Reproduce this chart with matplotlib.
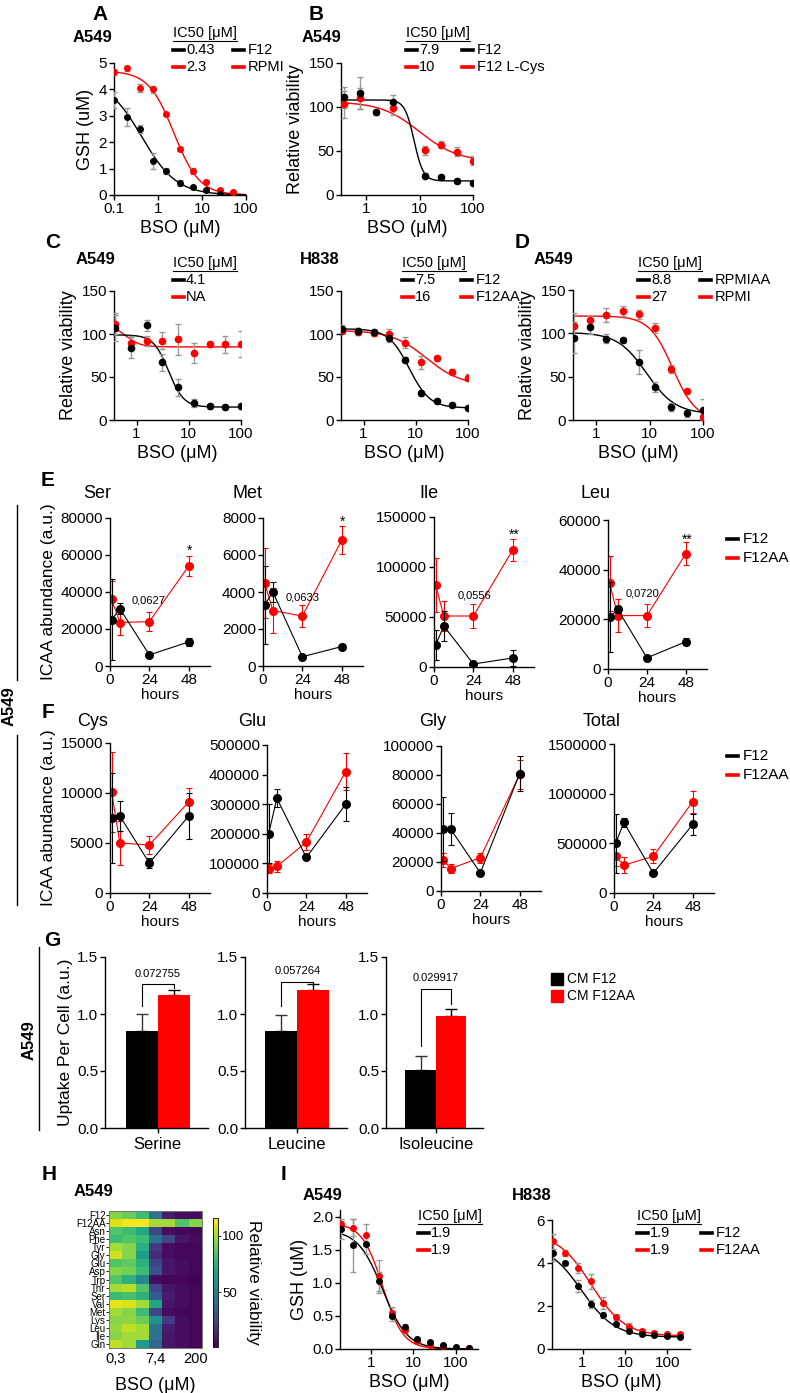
import matplotlib
matplotlib.use("Agg")
import matplotlib.pyplot as plt
import numpy as np
from matplotlib.lines import Line2D
from matplotlib.patches import Rectangle

plt.rcParams['font.family'] = ['Liberation Sans', 'DejaVu Sans']

W, H = 790, 1393
RED = '#ff0000'
GREY = '#999999'
nan = np.nan

# ---------------- data ----------------
# A: GSH vs BSO
dose_A = [0.098, 0.195, 0.39, 0.78, 1.56, 3.125, 6.25, 12.5, 25, 50]
gsh_A_f12 = [3.6, 2.95, 2.5, 1.3, 0.9, 0.45, 0.3, 0.2, 0.02, nan]
gsh_A_f12_err = [0.3, 0.35, 0.15, 0.3, 0.12, 0.1, 0.05, 0.03, 0.02, nan]
gsh_A_rpmi = [4.65, 4.8, 4.05, 4.0, 3.05, 1.75, 0.9, 0.5, 0.18, 0.12]
gsh_A_rpmi_err = [0.12, 0.1, 0.15, 0.12, 0.05, 0.08, 0.12, 0.05, 0.05, 0.03]
fit_A_f12 = [4.4, 0.0, 0.43, 1.1]      # top, bottom, IC50, hill
fit_A_rpmi = [4.7, 0.0, 2.3, 1.5]

# B, C, D: relative viability
dose_v = [0.39, 0.78, 1.56, 3.125, 6.25, 12.5, 25, 50, 100]
via_B_f12 = [111, 116, 94, 106, nan, 22, 21, 16, 14]
via_B_f12_err = [12, 18, 3, 8, nan, 3, 2, 2, 2]
via_B_lcys = [103, 110, nan, 99, nan, 51, 57, 49, 39]
via_B_lcys_err = [15, 12, nan, 8, nan, 5, 4, 5, 5]
fit_B_f12 = [108, 16, 7.9, 5.0]
fit_B_lcys = [106, 38, 10, 1.2]

via_C1_f12 = [107, 84, 110, 67, 38, 20, 16, 15, 16]
via_C1_f12_err = [15, 12, 6, 10, 10, 5, 3, 2, 3]
via_C1_aa = [112, 90, 92, 92, 94, 78, 88, 88, 88]
via_C1_aa_err = [12, 8, 6, 10, 18, 12, 3, 10, 15]
fit_C1_f12 = [99, 15, 4.1, 3.0]
fit_C1_aa = [112, 85, 0.6, 3.0]

via_C2_f12 = [106, 104, 102, 95, 70, 31, 22, 17, 14]
via_C2_f12_err = [4, 3, 3, 4, 3, 3, 2, 2, 2]
via_C2_aa = [104, 102, 101, 100, 90, 67, 72, 56, 49]
via_C2_aa_err = [3, 3, 3, 6, 6, 8, 3, 3, 4]
fit_C2_f12 = [106, 14, 7.5, 2.2]
fit_C2_aa = [104, 40, 16, 1.3]

via_D_rpmiaa = [95, 107, 94, 92, 67, 38, 15, 8, 12]
via_D_rpmiaa_err = [18, 8, 5, 3, 14, 6, 5, 4, 12]
via_D_rpmi = [108, 115, 121, 126, 122, 106, 59, 33, 4]
via_D_rpmi_err = [15, 5, 8, 6, 5, 6, 5, 2, 3]
fit_D_rpmiaa = [101, 7, 8.8, 1.6]
fit_D_rpmi = [120, 0, 27, 2.0]

# E/F: intracellular amino acids over time
hours = [1, 6, 24, 48]
aa_names_E = ['Ser', 'Met', 'Ile', 'Leu']
aa_names_F = ['Cys', 'Glu', 'Gly', 'Total']
icaa_f12 = {
    'Ser': [25000, 31000, 6000, 13000], 'Met': [3300, 4000, 500, 1050],
    'Ile': [22000, 41000, 3000, 9000], 'Leu': [21000, 24000, 4500, 11000],
    'Cys': [7500, 7700, 3000, 7700], 'Glu': [200000, 320000, 120000, 300000],
    'Gly': [43000, 42500, 12500, 81000], 'Total': [500000, 710000, 200000, 690000],
}
icaa_f12_err = {
    'Ser': [22000, 3000, 500, 2000], 'Met': [2100, 550, 100, 150],
    'Ile': [15000, 15000, 1000, 8000], 'Leu': [14000, 1500, 500, 1500],
    'Cys': [4500, 1500, 500, 2300], 'Glu': [100000, 30000, 5000, 58000],
    'Gly': [22000, 11000, 1000, 12000], 'Total': [300000, 50000, 10000, 110000],
}
icaa_aa = {
    'Ser': [36000, 23500, 24000, 54000], 'Met': [4500, 3000, 2700, 6800],
    'Ile': [82000, 51000, 51000, 117000], 'Leu': [34500, 21500, 21500, 46500],
    'Cys': [10100, 5000, 4800, 9100], 'Glu': [82000, 90000, 172000, 410000],
    'Gly': [21500, 15500, 23000, 80500], 'Total': [370000, 280000, 370000, 920000],
}
icaa_aa_err = {
    'Ser': [10000, 7000, 5000, 5500], 'Met': [1900, 1200, 600, 750],
    'Ile': [27000, 15000, 12000, 11000], 'Leu': [11000, 6800, 4500, 4500],
    'Cys': [4000, 2200, 900, 1400], 'Glu': [15000, 18000, 28000, 62000],
    'Gly': [5000, 3000, 3500, 10000], 'Total': [100000, 80000, 70000, 110000],
}
ymax = {'Ser': 80000, 'Met': 8000, 'Ile': 150000, 'Leu': 60000,
        'Cys': 15000, 'Glu': 500000, 'Gly': 100000, 'Total': 1500000}
ystep = {'Ser': 20000, 'Met': 2000, 'Ile': 50000, 'Leu': 20000,
         'Cys': 5000, 'Glu': 100000, 'Gly': 20000, 'Total': 500000}
pval_E = {'Ser': '0,0627', 'Met': '0,0633', 'Ile': '0,0556', 'Leu': '0,0720'}
stars_E = {'Ser': '*', 'Met': '*', 'Ile': '**', 'Leu': '**'}

# G: uptake per cell
uptake_cats = ['Serine', 'Leucine', 'Isoleucine']
uptake_f12 = [0.85, 0.85, 0.51]
uptake_f12_err = [0.15, 0.14, 0.12]
uptake_aa = [1.17, 1.21, 0.98]
uptake_aa_err = [0.04, 0.05, 0.06]
uptake_p = ['0.072755', '0.057264', '0.029917']

# H: heatmap
hm_rows = ['F12', 'F12AA', 'Asn', 'Phe', 'Tyr', 'Gly', 'Glu', 'Asp', 'Trp',
           'Thr', 'Ser', 'Val', 'Met', 'Lys', 'Leu', 'Ile', 'Gln']
hm_vals = [
    [95, 90, 80, 45, 10, 5, 5],
    [110, 114, 115, 100, 100, 85, 95],
    [85, 80, 70, 25, 5, 3, 3],
    [80, 85, 80, 45, 25, 8, 5],
    [100, 95, 75, 20, 5, 3, 3],
    [108, 95, 65, 15, 5, 3, 3],
    [85, 88, 75, 25, 8, 5, 3],
    [95, 92, 80, 30, 8, 5, 3],
    [85, 75, 55, 5, 3, 3, 2],
    [100, 104, 85, 25, 8, 5, 3],
    [80, 82, 75, 35, 10, 5, 3],
    [112, 110, 100, 70, 8, 5, 3],
    [100, 95, 80, 25, 5, 3, 3],
    [95, 97, 90, 60, 20, 5, 3],
    [98, 105, 100, 45, 10, 5, 3],
    [95, 100, 100, 45, 8, 5, 3],
    [105, 100, 65, 40, 8, 5, 3],
]
hm_xlabels = ['0,3', '7,4', '200']

# I: GSH vs BSO, F12 vs F12AA
dose_I = [0.2, 0.39, 0.78, 1.56, 3.125, 6.25, 12.5, 25, 50, 100, 200]
gsh_I1_f12 = [1.81, 1.57, 1.59, 1.02, 0.5, 0.33, 0.15, 0.1, 0.06, 0.03, 0.02]
gsh_I1_f12_err = [0.15, 0.4, 0.15, 0.15, 0.08, 0.05, 0.03, 0.02, 0.02, 0.01, 0.01]
gsh_I1_aa = [1.89, 1.83, 1.72, 1.1, 0.55, 0.28, 0.12, 0.06, 0.04, 0.02, 0.01]
gsh_I1_aa_err = [0.05, 0.13, 0.17, 0.25, 0.08, 0.04, 0.02, 0.02, 0.01, 0.01, 0.01]
fit_I1_f12 = [1.8, 0.0, 1.9, 1.5]
fit_I1_aa = [1.9, 0.0, 1.9, 1.8]
gsh_I2_f12 = [4.47, 4.0, 2.93, 2.09, 1.58, 1.16, 0.85, 0.7, 0.65, 0.6, 0.58]
gsh_I2_f12_err = [0.4, 0.1, 0.3, 0.2, 0.15, 0.1, 0.1, 0.08, 0.05, 0.05, 0.05]
gsh_I2_aa = [5.02, 4.47, 3.77, 3.16, 2.14, 1.49, 1.02, 0.85, 0.75, 0.7, 0.68]
gsh_I2_aa_err = [0.35, 0.15, 0.25, 0.35, 0.3, 0.15, 0.2, 0.1, 0.1, 0.05, 0.05]
fit_I2_f12 = [4.9, 0.55, 0.95, 1.1]
fit_I2_aa = [5.4, 0.6, 1.6, 1.1]

# ---------------- helpers ----------------
fig = plt.figure(figsize=(W / 100, H / 100), dpi=100, facecolor='white')


def box(l, t, r, b):
    return fig.add_axes([l / W, 1 - b / H, (r - l) / W, (b - t) / H])


def T(x, y, s, **kw):
    kw.setdefault('va', 'center')
    return fig.text(x / W, 1 - y / H, s, **kw)


def hline(x0, x1, y, lw=1, color='k'):
    fig.add_artist(Line2D([x0 / W, x1 / W], [1 - y / H, 1 - y / H],
                          color=color, lw=lw, transform=fig.transFigure))


def vline(x, y0, y1, lw=1, color='k'):
    fig.add_artist(Line2D([x / W, x / W], [1 - y0 / H, 1 - y1 / H],
                          color=color, lw=lw, transform=fig.transFigure))


def prism(ax, labelsize=11):
    ax.spines['top'].set_visible(False)
    ax.spines['right'].set_visible(False)
    for s in ['left', 'bottom']:
        ax.spines[s].set_linewidth(1.0)
    ax.tick_params(direction='out', length=3.5, width=1, labelsize=labelsize, pad=1.5)
    ax.patch.set_alpha(0)


def logistic(x, top, bottom, ic50, hill):
    return bottom + (top - bottom) / (1 + (x / ic50) ** hill)


def dose_plot(ax, dose, y1, e1, f1, y2, e2, f2, xlim, xend, ms=4.5):
    xx = np.logspace(np.log10(xlim[0]), np.log10(xend), 300)
    for y, e, f, c in [(y2, e2, f2, RED), (y1, e1, f1, 'k')]:
        ax.plot(xx, logistic(xx, *f), color=c, lw=1, zorder=2)
        ax.errorbar(dose, y, yerr=e, fmt='o', color=c, ms=ms, ecolor=GREY,
                    elinewidth=1, capsize=2, capthick=1, zorder=3)
    ax.set_xscale('log')
    ax.set_xlim(*xlim)
    ax.minorticks_off()
    prism(ax)


def ic50_legend(x, y, vals, x2=None, names=None, fs=10.5):
    T(x, y, 'IC50 [μM]', fontsize=fs)
    hline(x, x + 64, y + 8, lw=0.8)
    for i, (v, c) in enumerate(zip(vals, ['k', RED])):
        yy = y + 17 * (i + 1)
        hline(x, x + 11, yy, lw=2.6, color=c)
        T(x + 13, yy, v, fontsize=fs)
        if names:
            hline(x2, x2 + 11, yy, lw=2.6, color=c)
            T(x2 + 15, yy, names[i], fontsize=fs)


LBL = dict(fontsize=13)
LET = dict(fontsize=15, fontweight='bold', ha='center')
TTL = dict(fontsize=12, fontweight='bold', ha='center')

# ---------------- A ----------------
ax = box(114, 63, 246, 195)
dose_plot(ax, dose_A, gsh_A_f12, gsh_A_f12_err, fit_A_f12,
          gsh_A_rpmi, gsh_A_rpmi_err, fit_A_rpmi, (0.1, 100), 100, ms=4)
ax.set_ylim(0, 5)
ax.set_yticks([0, 1, 2, 3, 4, 5])
ax.set_xticks([0.1, 1, 10, 100])
ax.set_xticklabels(['0.1', '1', '10', '100'])
ax.set_xlabel('BSO (μM)', **LBL, labelpad=3)
ax.set_ylabel('GSH (uM)', **LBL, labelpad=3)
T(100, 14, 'A', **LET)
T(92, 37, 'A549', **TTL)
ic50_legend(173, 33, ['0.43', '2.3'], 233, ['F12', 'RPMI'])

# ---------------- B ----------------
ax = box(341, 63, 473, 195)
dose_plot(ax, dose_v, via_B_f12, via_B_f12_err, fit_B_f12,
          via_B_lcys, via_B_lcys_err, fit_B_lcys, (0.34, 100), 100)
ax.set_ylim(0, 150)
ax.set_yticks([0, 50, 100, 150])
ax.set_xticks([1, 10, 100])
ax.set_xticklabels(['1', '10', '100'])
ax.set_xlabel('BSO (μM)', **LBL, labelpad=3)
ax.set_ylabel('Relative viability', **LBL, labelpad=3)
T(316, 14, 'B', **LET)
T(321, 37, 'A549', **TTL)
ic50_legend(406, 33, ['7.9', '10'], 462, ['F12', 'F12 L-Cys'])

# ---------------- C ----------------
ax = box(114, 291, 241, 420)
dose_plot(ax, dose_v, via_C1_f12, via_C1_f12_err, fit_C1_f12,
          via_C1_aa, via_C1_aa_err, fit_C1_aa, (0.37, 100), 100)
ax.set_ylim(0, 150)
ax.set_yticks([0, 50, 100, 150])
ax.set_xticks([1, 10, 100])
ax.set_xticklabels(['1', '10', '100'])
ax.set_xlabel('BSO (μM)', **LBL, labelpad=3)
ax.set_ylabel('Relative viability', **LBL, labelpad=3)
T(53, 243, 'C', **LET)
T(95, 260, 'A549', **TTL)
ic50_legend(173, 263, ['4.1', 'NA'])

ax = box(341, 291, 468, 420)
dose_plot(ax, dose_v, via_C2_f12, via_C2_f12_err, fit_C2_f12,
          via_C2_aa, via_C2_aa_err, fit_C2_aa, (0.37, 100), 100)
ax.set_ylim(0, 150)
ax.set_yticks([0, 50, 100, 150])
ax.set_xticks([1, 10, 100])
ax.set_xticklabels(['1', '10', '100'])
ax.set_xlabel('BSO (μM)', **LBL, labelpad=3)
T(320, 260, 'H838', **TTL)
ic50_legend(402, 263, ['7.5', '16'], 461, ['F12', 'F12AA'])

# ---------------- D ----------------
ax = box(573, 290, 703, 420)
dose_plot(ax, dose_v, via_D_rpmiaa, via_D_rpmiaa_err, fit_D_rpmiaa,
          via_D_rpmi, via_D_rpmi_err, fit_D_rpmi, (0.37, 100), 100)
ax.set_ylim(0, 150)
ax.set_yticks([0, 50, 100, 150])
ax.set_xticks([1, 10, 100])
ax.set_xticklabels(['1', '10', '100'])
ax.set_xlabel('BSO (μM)', **LBL, labelpad=3)
ax.set_ylabel('Relative viability', **LBL, labelpad=3)
T(522, 243, 'D', **LET)
T(553, 260, 'A549', **TTL)
ic50_legend(638, 263, ['8.8', '27'], 700, ['RPMIAA', 'RPMI'])


# ---------------- E / F ----------------
def time_plot(ax, name):
    ax.errorbar(hours, icaa_aa[name], yerr=icaa_aa_err[name], color=RED, marker='o',
                ms=5.5, lw=0.8, elinewidth=0.8, capsize=2.5, capthick=0.8, zorder=2)
    ax.errorbar(hours, icaa_f12[name], yerr=icaa_f12_err[name], color='k', marker='o',
                ms=5.5, lw=0.8, elinewidth=0.8, capsize=2.5, capthick=0.8, zorder=3)
    ax.set_xlim(0, 61)
    ax.set_ylim(0, ymax[name])
    ax.set_yticks(np.arange(0, ymax[name] + 1, ystep[name]))
    ax.ticklabel_format(axis='y', style='plain', useOffset=False)
    ax.set_xticks([0, 24, 48])
    prism(ax)
    ax.set_xlabel('hours', fontsize=11, labelpad=1)


E_boxes = [(110, 518, 210, 666), (263, 518, 363, 666), (434, 517, 534, 667), (608, 520, 707, 669)]
E_title_x = [97, 248, 429, 595]
E_p_xy = [(149, 601), (303, 597), (474, 596), (643, 594)]
E_star_xy = [(190, 551), (343, 522), (514, 535), (687, 540)]
for name, b, tx, pxy, sxy in zip(aa_names_E, E_boxes, E_title_x, E_p_xy, E_star_xy):
    ax = box(*b)
    time_plot(ax, name)
    T(tx, 494, name, fontsize=13, ha='center')
    T(pxy[0], pxy[1], pval_E[name], fontsize=8, ha='center')
    T(sxy[0], sxy[1], stars_E[name], fontsize=10, ha='center')
    if name == 'Ser':
        ax.set_ylabel('ICAA abundance (a.u.)', fontsize=12.5, labelpad=3)

F_boxes = [(110, 743, 210, 893), (267, 745, 367, 893), (441, 746, 541, 891), (614, 744, 714, 893)]
F_title_x = [93, 252, 433, 602]
for name, b, tx in zip(aa_names_F, F_boxes, F_title_x):
    ax = box(*b)
    time_plot(ax, name)
    T(tx, 721, name, fontsize=13, ha='center')
    if name == 'Cys':
        ax.set_ylabel('ICAA abundance (a.u.)', fontsize=12.5, labelpad=3)

T(48, 480, 'E', **LET)
T(48, 712, 'F', **LET)
for yy in (539, 756):
    hline(727, 738, yy, lw=2.6, color='k')
    T(743, yy, 'F12', fontsize=11)
    hline(727, 738, yy + 19, lw=2.6, color=RED)
    T(743, yy + 19, 'F12AA', fontsize=11)
vline(17, 505, 680)
vline(17, 735, 905)
T(9, 706, 'A549', fontsize=12, fontweight='bold', rotation=90, ha='center')

# ---------------- G ----------------
G_boxes = [(105, 957, 208, 1128), (245, 957, 347, 1128), (386, 957, 483, 1128)]
G_bracket = [(1.07, 1.26, 1.23), (1.07, 1.28, 1.27), (0.72, 1.22, 1.09)]
for i, b in enumerate(G_boxes):
    ax = box(*b)
    ax.bar(-0.25, uptake_f12[i], width=0.5, color='k', zorder=2)
    ax.bar(0.25, uptake_aa[i], width=0.5, color=RED, zorder=2)
    ax.errorbar([-0.25], [uptake_f12[i]], yerr=[[0], [uptake_f12_err[i]]], fmt='none',
                ecolor='#333333', elinewidth=1, capsize=4, capthick=1, zorder=1)
    ax.errorbar([0.25], [uptake_aa[i]], yerr=[[0], [uptake_aa_err[i]]], fmt='none',
                ecolor='k', elinewidth=1, capsize=4, capthick=1, zorder=1)
    lb, top, rb = G_bracket[i]
    ax.plot([-0.25, -0.25, 0.25, 0.25], [lb, top, top, rb], color='k', lw=0.8)
    ax.text(0, top + 0.05, uptake_p[i], fontsize=8, ha='center', va='bottom')
    ax.set_xlim(-0.82, 0.78)
    ax.set_ylim(0, 1.5)
    ax.set_yticks([0, 0.5, 1.0, 1.5])
    ax.set_yticklabels(['0.0', '0.5', '1.0', '1.5'])
    ax.set_xticks([0])
    ax.set_xticklabels([uptake_cats[i]])
    prism(ax)
    ax.tick_params(axis='x', labelsize=12, pad=3)
    if i == 0:
        ax.set_ylabel('Uptake Per Cell (a.u.)', fontsize=12.5, labelpad=3)
T(52, 940, 'G', **LET)
vline(39, 947, 1130)
T(29, 1040, 'A549', fontsize=12, fontweight='bold', rotation=90, ha='center')
fig.add_artist(Rectangle((551 / W, 1 - 985 / H), 12 / W, 12 / H, color='k',
                         transform=fig.transFigure))
T(567, 979, 'CM F12', fontsize=10)
fig.add_artist(Rectangle((551 / W, 1 - 1002 / H), 12 / W, 12 / H, color=RED,
                         transform=fig.transFigure))
T(567, 996, 'CM F12AA', fontsize=10)

# ---------------- H ----------------
ax = box(109, 1211, 202, 1348)
im = ax.imshow(np.array(hm_vals, dtype=float), cmap='viridis', vmin=1, vmax=116,
               aspect='auto', interpolation='nearest')
ax.set_yticks(range(len(hm_rows)))
ax.set_yticklabels(hm_rows, fontsize=7)
ax.set_xticks([0, 3, 6])
ax.set_xticklabels(hm_xlabels, fontsize=10.5)
ax.tick_params(length=2, width=0.6, pad=0.5)
ax.tick_params(axis='x', length=0, pad=3)
for s in ax.spines.values():
    s.set_color('#777777')
    s.set_linewidth(0.7)
ax.set_xlabel('BSO (μM)', fontsize=13, labelpad=8)
cax = box(213, 1218, 218, 1347)
cb = fig.colorbar(im, cax=cax, ticks=[50, 100])
cb.ax.tick_params(labelsize=9.5, length=2, width=0.6, pad=1)
cb.outline.set_linewidth(0.6)
T(254, 1282, 'Relative viability', fontsize=12.5, rotation=270, ha='center')
T(49, 1175, 'H', **LET)
T(93, 1192, 'A549', **TTL)

# ---------------- I ----------------
ax = box(340, 1210, 478, 1349)
dose_plot(ax, dose_I, gsh_I1_f12, gsh_I1_f12_err, fit_I1_f12,
          gsh_I1_aa, gsh_I1_aa_err, fit_I1_aa, (0.19, 330), 200, ms=4)
ax.set_ylim(0, 2.1)
ax.set_yticks([0, 0.5, 1.0, 1.5, 2.0])
ax.set_yticklabels(['0.0', '0.5', '1.0', '1.5', '2.0'])
ax.set_xticks([1, 10, 100])
ax.set_xticklabels(['1', '10', '100'])
ax.set_xlabel('BSO (μM)', **LBL, labelpad=3)
ax.set_ylabel('GSH (uM)', **LBL, labelpad=3)
T(284, 1175, 'I', **LET)
T(322, 1195, 'A549', **TTL)
ic50_legend(418, 1216, ['1.9', '1.9'])

ax = box(552, 1220, 690, 1349)
dose_plot(ax, dose_I, gsh_I2_f12, gsh_I2_f12_err, fit_I2_f12,
          gsh_I2_aa, gsh_I2_aa_err, fit_I2_aa, (0.19, 345), 200, ms=4)
ax.set_ylim(0, 6)
ax.set_yticks([0, 2, 4, 6])
ax.set_xticks([1, 10, 100])
ax.set_xticklabels(['1', '10', '100'])
ax.set_xlabel('BSO (μM)', **LBL, labelpad=3)
T(532, 1195, 'H838', **TTL)
ic50_legend(637, 1216, ['1.9', '1.9'], 701, ['F12', 'F12AA'])

fig.savefig('out.png', dpi=100, facecolor='white')
